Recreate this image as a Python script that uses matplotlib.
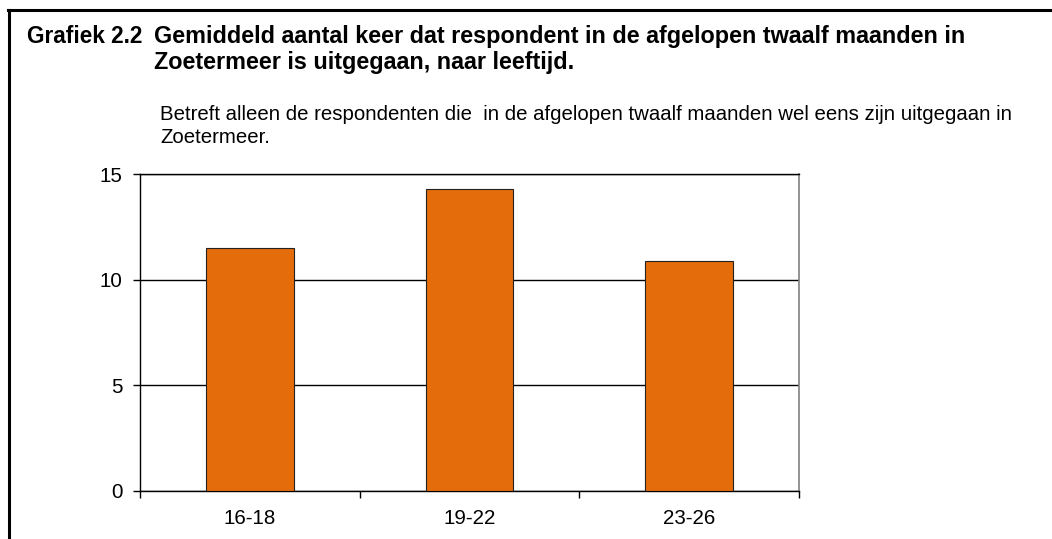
import matplotlib
matplotlib.use("Agg")
import matplotlib.pyplot as plt
from matplotlib.lines import Line2D

# Gegevens uit de grafiek
leeftijden = ["16-18", "19-22", "23-26"]
gemiddeld_aantal = [11.5, 14.3, 10.9]
y_ticks = [0, 5, 10, 15]

titel_nummer = "Grafiek 2.2"
titel_regel_1 = "Gemiddeld aantal keer dat respondent in de afgelopen twaalf maanden in"
titel_regel_2 = "Zoetermeer is uitgegaan, naar leeftijd."
ondertitel = ("Betreft alleen de respondenten die  in de afgelopen twaalf maanden wel eens zijn uitgegaan in\n"
              "Zoetermeer.")

plt.rcParams["font.family"] = ["Liberation Sans", "DejaVu Sans"]

W, H = 1052, 539
fig = plt.figure(figsize=(W / 100, H / 100), dpi=100)
fig.patch.set_facecolor("white")

# kader (alleen boven- en linkerlijn zichtbaar)
fig.add_artist(Line2D([8 / W, 1.0], [1 - 10 / H, 1 - 10 / H], color="black", lw=2.2))
fig.add_artist(Line2D([9 / W, 9 / W], [1 - 10 / H, 0.0], color="black", lw=2.2))

fig.text(27 / W, 1 - 36 / H, titel_nummer, fontsize=16.3, fontweight="bold", va="center")
fig.text(154 / W, 1 - 36 / H, titel_regel_1, fontsize=16.8, fontweight="bold", va="center")
fig.text(154 / W, 1 - 63 / H, titel_regel_2, fontsize=16.8, fontweight="bold", va="center")
fig.text(160 / W, 1 - 126 / H, ondertitel, fontsize=14.7, va="center", linespacing=1.3)

ax = fig.add_axes([140 / W, 48 / H, 659 / W, 317 / H])
x = range(len(leeftijden))
ax.bar(x, gemiddeld_aantal, width=0.4, color="#E46C0A", edgecolor="#222222",
       linewidth=0.8, zorder=3)

ax.set_xlim(-0.5, len(leeftijden) - 0.5)
ax.set_ylim(0, 15)
ax.set_yticks(y_ticks)
ax.set_yticklabels([str(v) for v in y_ticks], fontsize=14.8)
ax.set_xticks(list(x))
ax.set_xticklabels(leeftijden, fontsize=14.8)
ax.tick_params(axis="x", length=0, pad=13)
ax.set_xticks([i - 0.5 for i in range(len(leeftijden) + 1)], minor=True)
ax.tick_params(axis="x", which="minor", length=5, width=1, direction="out")
ax.tick_params(axis="y", length=5, width=1, direction="out", pad=7.5)

ax.yaxis.grid(True, color="black", linewidth=1, zorder=0)
ax.set_axisbelow(True)
ax.spines["top"].set_color("black")
ax.spines["right"].set_color("#808080")
ax.spines["right"].set_linewidth(1.2)
for s in ["left", "bottom", "top"]:
    ax.spines[s].set_linewidth(1)

fig.savefig("out.png", dpi=100, facecolor="white")
